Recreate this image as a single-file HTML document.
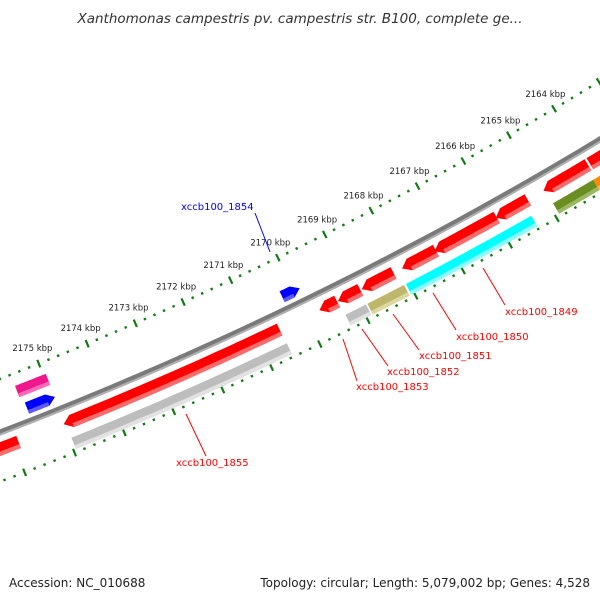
<!DOCTYPE html>
<html><head><meta charset="utf-8"><style>
html,body{margin:0;padding:0;background:#fff;}
svg{display:block;font-family:"DejaVu Sans","Liberation Sans",sans-serif;}
</style></head><body>
<svg id="map" width="600" height="600" viewBox="0 0 600 600">
<text x="300" y="23" text-anchor="middle" font-size="13.5" font-style="italic" fill="#333">Xanthomonas campestris pv. campestris str. B100, complete ge...</text>
<text x="9" y="587" font-size="12" fill="#222">Accession: NC_010688</text>
<text x="590" y="587" text-anchor="end" font-size="12" fill="#222">Topology: circular; Length: 5,079,002 bp; Genes: 4,528</text>
<g id="layer"></g>
<g font-size="10">
<line x1="483" y1="268" x2="505" y2="305" stroke="#ff0000"/>
<text x="505" y="315" fill="#ff0000">xccb100_1849</text>
<line x1="433" y1="293" x2="456" y2="330" stroke="#ff0000"/>
<text x="456" y="340" fill="#ff0000">xccb100_1850</text>
<line x1="393" y1="314" x2="419" y2="350" stroke="#ff0000"/>
<text x="419" y="359" fill="#ff0000">xccb100_1851</text>
<line x1="362" y1="329" x2="388" y2="366" stroke="#ff0000"/>
<text x="387" y="375" fill="#ff0000">xccb100_1852</text>
<line x1="343" y1="339" x2="357" y2="381" stroke="#ff0000"/>
<text x="356" y="390" fill="#ff0000">xccb100_1853</text>
<line x1="186" y1="414" x2="206" y2="456" stroke="#ff0000"/>
<text x="176" y="466" fill="#ff0000">xccb100_1855</text>
<line x1="255" y1="213" x2="270" y2="252" stroke="#0000ff"/>
<text x="181" y="210" fill="#0000ff">xccb100_1854</text>
</g>
</svg>
<script>
// ---- data ----
const kbpTicks = [2164,2165,2166,2167,2168,2169,2170,2171,2172,2173,2174,2175];
const featNames = ["f-left","1855","1855-gray","pink","blue-left","1854","1853","1852","1851","1853-gray","1852-olive","1850","1849a","1849b","1850-cyan","red-r1","red-r2","olive-r","orange-r"];
const featStart = [2175900,2170560,2170550,2174950,2174950,2169880,2169360,2168870,2168170,2168900,2168100,2167270,2165970,2165300,2165390,2163990,2163400,2164050,2163400];
const featEnd   = [2177000,2174990,2174950,2175580,2175520,2170250,2169730,2169340,2168840,2169330,2168870,2167990,2167300,2165990,2168060,2164960,2163950,2164920,2164050];
const featRing  = [1,1,2,-2,-1,-1,1,1,1,2,2,1,1,1,2,1,1,2,2];
const featArrow = [0,1,0,0,-1,-1,1,1,1,0,0,1,1,1,0,1,0,0,0];
const featColor = ["#ff0000","#ff0000","#bdbdbd","#f0168c","#0000ff","#0000ff","#ff0000","#ff0000","#ff0000","#bdbdbd","#bdb76b","#ff0000","#ff0000","#ff0000","#00ffff","#ff0000","#ff0000","#6b8e23","#ff8c00"];
const featLight = ["#ff6a6a","#ff6a6a","#e2e2e2","#ff6ab8","#5a5aff","#5a5aff","#ff6a6a","#ff6a6a","#ff6a6a","#e2e2e2","#dcd8a0","#ff6a6a","#ff6a6a","#ff6a6a","#8affff","#ff6a6a","#ff6a6a","#9ab860","#ffb860"];
// ---- geometry ----
const CX=-1345, CY=-3083, R=3764;
const A0=64.09, DEG_PER_KBP=0.807;
function ang(bp){return (A0+(bp-2170000)/1000*DEG_PER_KBP)*Math.PI/180;}
function pt(bp,r){const a=ang(bp);return [CX+r*Math.cos(a),CY+r*Math.sin(a)];}
const NS="http://www.w3.org/2000/svg";
const layer=document.getElementById('layer');
function mk(tag,attrs){const e=document.createElementNS(NS,tag);for(const k in attrs)e.setAttribute(k,attrs[k]);layer.appendChild(e);return e;}
function band(a,b,r1,r2){const pts=[];const n=30;for(let i=0;i<=n;i++)pts.push(pt(a+(b-a)*i/n,r2));for(let i=n;i>=0;i--)pts.push(pt(a+(b-a)*i/n,r1));return pts;}
function ptsStr(p){return p.map(q=>q[0].toFixed(1)+","+q[1].toFixed(1)).join(" ");}
const bb=mk('polygon',{points:ptsStr(band(2162000,2177500,R-3,R+3)),fill:'#7a7a7a'});


const bbh=mk('polygon',{points:ptsStr(band(2162000,2177500,R+1,R+3)),fill:'#b0b0b0'});


function tickRing(r,name){
  for(let bp=2162400;bp<=2177000;bp+=200){
    const major=bp%1000===0;
    const h=major?4:1.2;
    const p1=pt(bp,r-h),p2=pt(bp,r+h);
    const t=mk('line',{x1:p1[0],y1:p1[1],x2:p2[0],y2:p2[1],stroke:'#127a12','stroke-width':major?2.2:2.4});
    
    
  }
}
tickRing(R-50,'inner');
tickRing(R+46,'outer');
kbpTicks.forEach(k=>{
  const p=pt(k*1000,R-67);
  const t=mk('text',{x:p[0].toFixed(1),y:(p[1]+3).toFixed(1),'text-anchor':'middle','font-size':'8.5',fill:'#222'});
  t.textContent=k+" kbp";
  
  
});
const ringR={1:[R+9,R+22],2:[R+31,R+43],'-1':[R-19,R-7],'-2':[R-38,R-26]};
featStart.forEach((s,i)=>{
  const e=featEnd[i];const rr=ringR[featRing[i]];const r1=rr[0],r2=rr[1],mid=(r1+r2)/2;
  const hd=160;let body,tip=null;
  if(featArrow[i]===1){body=[s,e-hd];tip=e;}else if(featArrow[i]===-1){body=[s+hd,e];tip=s;}else body=[s,e];
  let pts=band(body[0],body[1],r1,r2);
  if(tip!==null){
    const n=31;
    if(featArrow[i]===1){pts.splice(n,0,pt(tip,mid));}
    else{pts.push(pt(tip,mid));}
  }
  const g=mk('polygon',{points:ptsStr(pts),fill:featColor[i]});
  
  
  const lw=(r2-r1)*0.32;
  const hl=mk('polygon',{points:ptsStr(band(body[0],body[1],r2-lw,r2)),fill:featLight[i]});
  
  
});
</script>
</body></html>
